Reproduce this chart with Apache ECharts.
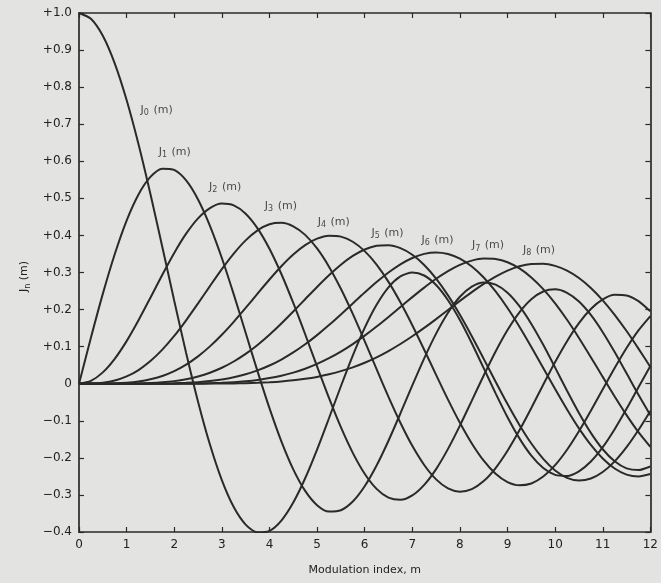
<!DOCTYPE html>
<html>
<head>
<meta charset="utf-8">
<script src="https://cdn.jsdelivr.net/npm/echarts@6/dist/echarts.min.js"></script>
<style>
  html, body { margin: 0; padding: 0; background: #e3e3e1; }
  #chart { width: 661px; height: 583px; }
</style>
</head>
<body>
<div id="chart"></div>
<script>
  // modulation index m (x axis), quarter steps
  var mValues = [0, 0.25, 0.5, 0.75, 1, 1.25, 1.5, 1.75, 2, 2.25, 2.5, 2.75, 3, 3.25, 3.5, 3.75,
    4, 4.25, 4.5, 4.75, 5, 5.25, 5.5, 5.75, 6, 6.25, 6.5, 6.75, 7, 7.25, 7.5, 7.75,
    8, 8.25, 8.5, 8.75, 9, 9.25, 9.5, 9.75, 10, 10.25, 10.5, 10.75, 11, 11.25, 11.5, 11.75, 12];

  // J_n(m)
  var j0 = [1.0000, 0.9844, 0.9385, 0.8642, 0.7652, 0.6459, 0.5118, 0.3690, 0.2239, 0.0827, -0.0484, -0.1641, -0.2601, -0.3328, -0.3801, -0.4014,
    -0.3971, -0.3691, -0.3205, -0.2551, -0.1776, -0.0931, -0.0068, 0.0759, 0.1506, 0.2130, 0.2601, 0.2894, 0.3001, 0.2919, 0.2663, 0.2252,
    0.1717, 0.1092, 0.0419, -0.0259, -0.0903, -0.1474, -0.1939, -0.2273, -0.2459, -0.2489, -0.2366, -0.2100, -0.1712, -0.1227, -0.0677, -0.0097, 0.0477];
  var j1 = [0, 0.1240, 0.2423, 0.3492, 0.4401, 0.5106, 0.5579, 0.5802, 0.5767, 0.5484, 0.4971, 0.4260, 0.3391, 0.2411, 0.1374, 0.0332,
    -0.0660, -0.1555, -0.2311, -0.2892, -0.3276, -0.3450, -0.3414, -0.3179, -0.2767, -0.2207, -0.1538, -0.0803, -0.0047, 0.0685, 0.1352, 0.1915,
    0.2346, 0.2621, 0.2731, 0.2672, 0.2453, 0.2091, 0.1613, 0.1049, 0.0435, -0.0190, -0.0789, -0.1325, -0.1768, -0.2093, -0.2284, -0.2330, -0.2234];
  var j2 = [0, 0.0078, 0.0306, 0.0671, 0.1149, 0.1711, 0.2321, 0.2940, 0.3528, 0.4047, 0.4461, 0.4739, 0.4861, 0.4811, 0.4586, 0.4191,
    0.3641, 0.2959, 0.2178, 0.1334, 0.0466, -0.0383, -0.1173, -0.1865, -0.2429, -0.2837, -0.3074, -0.3132, -0.3014, -0.2730, -0.2303, -0.1758,
    -0.1130, -0.0457, 0.0223, 0.0870, 0.1448, 0.1926, 0.2279, 0.2488, 0.2546, 0.2452, 0.2216, 0.1854, 0.1390, 0.0855, 0.0280, -0.0300, -0.0849];
  var j3 = [0, 0.0003, 0.0026, 0.0085, 0.0196, 0.0369, 0.0610, 0.0919, 0.1289, 0.1711, 0.2166, 0.2634, 0.3091, 0.3510, 0.3867, 0.4138,
    0.4302, 0.4341, 0.4247, 0.4015, 0.3649, 0.3158, 0.2561, 0.1882, 0.1148, 0.0391, -0.0354, -0.1053, -0.1676, -0.2192, -0.2580, -0.2823,
    -0.2911, -0.2843, -0.2626, -0.2274, -0.1809, -0.1258, -0.0653, -0.0027, 0.0584, 0.1147, 0.1633, 0.2014, 0.2273, 0.2397, 0.2381, 0.2228, 0.1951];
  var j4 = [0, 0, 0.0002, 0.0008, 0.0025, 0.0059, 0.0118, 0.0209, 0.0340, 0.0516, 0.0738, 0.1007, 0.1320, 0.1669, 0.2043, 0.2430,
    0.2811, 0.3169, 0.3485, 0.3738, 0.3912, 0.3992, 0.3967, 0.3829, 0.3576, 0.3212, 0.2747, 0.2196, 0.1578, 0.0917, 0.0239, -0.0428,
    -0.1054, -0.1612, -0.2077, -0.2430, -0.2655, -0.2742, -0.2691, -0.2505, -0.2196, -0.1781, -0.1283, -0.0730, -0.0151, 0.0423, 0.0962, 0.1438, 0.1825];
  var j5 = [0, 0, 0, 0.0001, 0.0002, 0.0007, 0.0018, 0.0038, 0.0070, 0.0121, 0.0195, 0.0297, 0.0430, 0.0599, 0.0804, 0.1046,
    0.1321, 0.1624, 0.1947, 0.2280, 0.2611, 0.2926, 0.3209, 0.3446, 0.3621, 0.3721, 0.3735, 0.3656, 0.3479, 0.3204, 0.2835, 0.2382,
    0.1858, 0.1281, 0.0671, 0.0053, -0.0550, -0.1113, -0.1613, -0.2028, -0.2341, -0.2538, -0.2611, -0.2558, -0.2383, -0.2096, -0.1712, -0.1250, -0.0735];
  var j6 = [0, 0, 0, 0, 0, 0.0001, 0.0002, 0.0006, 0.0012, 0.0023, 0.0042, 0.0071, 0.0114, 0.0174, 0.0254, 0.0359,
    0.0491, 0.0652, 0.0843, 0.1063, 0.1310, 0.1581, 0.1868, 0.2164, 0.2458, 0.2741, 0.2999, 0.3220, 0.3392, 0.3502, 0.3541, 0.3501,
    0.3376, 0.3163, 0.2866, 0.2490, 0.2043, 0.1539, 0.0993, 0.0425, -0.0145, -0.0695, -0.1204, -0.1650, -0.2016, -0.2287, -0.2451, -0.2501, -0.2437];
  var j7 = [0, 0, 0, 0, 0, 0, 0, 0, 0.0002, 0.0004, 0.0008, 0.0015, 0.0025, 0.0042, 0.0068, 0.0103,
    0.0152, 0.0217, 0.0300, 0.0405, 0.0534, 0.0688, 0.0867, 0.1070, 0.1296, 0.1542, 0.1802, 0.2069, 0.2336, 0.2593, 0.2831, 0.3039,
    0.3206, 0.3321, 0.3375, 0.3362, 0.3275, 0.3110, 0.2867, 0.2551, 0.2167, 0.1724, 0.1235, 0.0716, 0.0184, -0.0343, -0.0846, -0.1305, -0.1703];
  var j8 = [0, 0, 0, 0, 0, 0, 0, 0, 0, 0, 0.0001, 0.0003, 0.0005, 0.0009, 0.0015, 0.0025,
    0.0040, 0.0061, 0.0091, 0.0131, 0.0184, 0.0253, 0.0339, 0.0441, 0.0565, 0.0713, 0.0882, 0.1071, 0.1280, 0.1505, 0.1743, 0.1989,
    0.2235, 0.2472, 0.2693, 0.2889, 0.3051, 0.3168, 0.3232, 0.3238, 0.3179, 0.3050, 0.2851, 0.2583, 0.2250, 0.1859, 0.1421, 0.0947, 0.0451];

  // curve labels (subscript n, placed in data coordinates)
  var labelOrder = ['0', '1', '2', '3', '4', '5', '6', '7', '8'];
  var labelM = [1.63, 2.01, 3.07, 4.24, 5.35, 6.48, 7.53, 8.59, 9.66];
  var labelJ = [0.739, 0.626, 0.531, 0.480, 0.437, 0.407, 0.388, 0.374, 0.361];

  var lineColor = '#2a2a2a';
  var textColor = '#222';
  var font = 'DejaVu Sans, sans-serif';

  var curves = [j0, j1, j2, j3, j4, j5, j6, j7, j8];

  var series = curves.map(function (vals, n) {
    return {
      name: 'J' + n,
      type: 'line',
      smooth: 0.25,
      symbol: 'none',
      lineStyle: { color: lineColor, width: 2 },
      data: mValues.map(function (m, i) { return [m, vals[i]]; }),
      z: 3
    };
  });

  series.push({
    name: 'labels',
    type: 'scatter',
    symbolSize: 0,
    silent: true,
    data: labelM.map(function (m, i) { return [m, labelJ[i], labelOrder[i]]; }),
    label: {
      show: true,
      position: 'inside',
      formatter: function (p) {
        return '{a|J}{s|' + p.value[2] + '}{a| (m)}';
      },
      rich: {
        a: { fontSize: 11, fontFamily: font, color: textColor, lineHeight: 15, verticalAlign: 'middle' },
        s: { fontSize: 8, fontFamily: font, color: textColor, lineHeight: 15, verticalAlign: 'bottom', padding: [5, 1, 0, 0] }
      }
    },
    z: 5
  });

  var chart = echarts.init(document.getElementById('chart'));

  chart.setOption({
    backgroundColor: '#e3e3e1',
    animation: false,
    grid: { left: 79, right: 8, top: 13, bottom: 51, containLabel: false },
    xAxis: [{
      type: 'value',
      min: 0,
      max: 12,
      interval: 1,
      position: 'bottom',
      name: 'Modulation index, m',
      nameLocation: 'middle',
      nameGap: 33,
      nameTextStyle: { fontSize: 11, color: textColor, fontFamily: font },
      axisLine: { onZero: false, lineStyle: { color: lineColor, width: 1.7 } },
      axisTick: { inside: true, length: 5, lineStyle: { color: lineColor, width: 1.2 } },
      axisLabel: { margin: 7, fontSize: 12, color: textColor, fontFamily: font },
      splitLine: { show: false }
    }, {
      type: 'value',
      min: 0,
      max: 12,
      interval: 1,
      position: 'top',
      axisLine: { onZero: false, lineStyle: { color: lineColor, width: 1.7 } },
      axisTick: { inside: true, length: 5, lineStyle: { color: lineColor, width: 1.2 } },
      axisLabel: { show: false },
      splitLine: { show: false }
    }],
    yAxis: [{
      type: 'value',
      min: -0.4,
      max: 1.0,
      interval: 0.1,
      position: 'left',
      name: '{a|J}{s|n}{a| (m)}',
      nameLocation: 'middle',
      nameRotate: 90,
      nameGap: 45,
      nameTextStyle: {
        padding: [0, 0, 0, -8],
        rich: {
          a: { fontSize: 11, fontFamily: font, color: textColor, lineHeight: 15 },
          s: { fontSize: 8, fontFamily: font, color: textColor, lineHeight: 15, verticalAlign: 'bottom', padding: [5, 0, 0, 0] }
        }
      },
      axisLine: { onZero: false, lineStyle: { color: lineColor, width: 1.7 } },
      axisTick: { inside: true, length: 5, lineStyle: { color: lineColor, width: 1.2 } },
      axisLabel: {
        margin: 7,
        fontSize: 12,
        color: textColor,
        fontFamily: font,
        formatter: function (v) {
          if (Math.abs(v) < 1e-9) return '0';
          return (v > 0 ? '+' : '\u2212') + Math.abs(v).toFixed(1);
        }
      },
      splitLine: { show: false }
    }, {
      type: 'value',
      min: -0.4,
      max: 1.0,
      interval: 0.1,
      position: 'right',
      axisLine: { show: true, onZero: false, lineStyle: { color: lineColor, width: 1.7 } },
      axisTick: { show: true, inside: true, length: 5, lineStyle: { color: lineColor, width: 1.2 } },
      axisLabel: { show: false },
      splitLine: { show: false }
    }],
    series: series
  });
</script>
</body>
</html>
